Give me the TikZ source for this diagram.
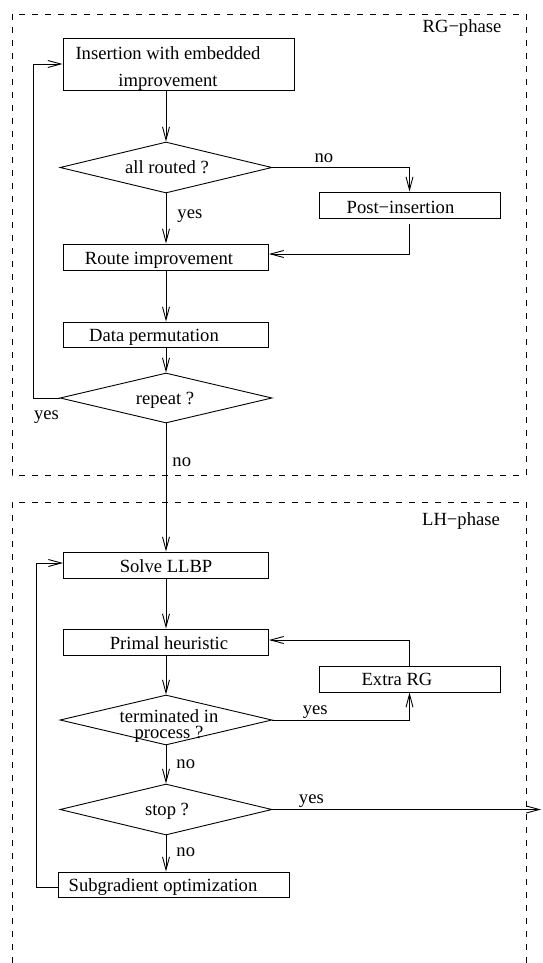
\documentclass[tikz,border=0pt]{standalone}
\usepackage{fontspec}
\setmainfont{Liberation Serif}
\usetikzlibrary{shapes.geometric,arrows.meta}
\begin{document}
\begin{tikzpicture}[x=1pt,y=-1pt,
  every node/.style={font=\fontsize{18.6}{22}\selectfont},
  box/.style={draw, line width=0.9pt, rectangle, inner sep=0pt},
  decision/.style={draw, line width=0.9pt, diamond, inner sep=0pt, minimum width=212pt},
  lbl/.style={inner sep=0pt},
  intext/.style={inner sep=0pt, text height=12.5pt, text depth=4pt, yshift=-3pt},
  flow/.style={line width=0.9pt, -{Straight Barb[length=13pt,width=7pt]}},
  phase/.style={dash pattern=on 6pt off 7pt, line width=0.8pt},
]
\useasboundingbox (0,0) rectangle (543,963);

% phase frames
\draw[phase] (12,14) rectangle (526,475);
\draw[phase] (12,963) -- (12,502) -- (526,502) -- (526,963);
\node[lbl] (rgtag) at (462,28) {RG−phase};
\node[lbl] (lhtag) at (461,521) {LH−phase};

% RG-phase
\node[box, minimum width=231pt, minimum height=52pt,
  label={[lbl, align=center, font=\fontsize{18.6}{27}\selectfont, xshift=-10.5pt, yshift=-4.5pt]center:Insertion with embedded\\improvement}]
  (ins) at (178.5,64) {};
\node[decision, minimum height=51pt, label={[intext, xshift=1pt, yshift=1pt]center:all routed ?}] (allr) at (166,167.5) {};
\node[box, minimum width=181pt, minimum height=26pt, label={[intext, xshift=-9pt, yshift=-1pt]center:Post−insertion}] (post) at (409.5,205) {};
\node[box, minimum width=205pt, minimum height=26pt, label={[intext, xshift=-7pt]center:Route improvement}] (route) at (166,257) {};
\node[box, minimum width=205pt, minimum height=25pt, label={[intext, xshift=-12pt]center:Data permutation}] (data) at (166,334.5) {};
\node[decision, minimum height=50pt, label={[intext, xshift=-1pt, yshift=1pt]center:repeat ?}] (rep) at (166,398) {};

% LH-phase
\node[box, minimum width=205pt, minimum height=26pt, label={[intext]center:Solve LLBP}] (solve) at (166,565) {};
\node[box, minimum width=205pt, minimum height=26pt, label={[intext, xshift=3pt]center:Primal heuristic}] (prim) at (166,642) {};
\node[box, minimum width=181pt, minimum height=26pt, label={[intext, xshift=-12.5pt, yshift=0.5pt]center:Extra RG}] (extra) at (409.5,679) {};
\node[decision, minimum height=50pt,
  label={[lbl, align=center, font=\fontsize{18.6}{16.5}\selectfont, xshift=3pt, yshift=-6pt]center:terminated in\\process ?}]
  (term) at (166,720) {};
\node[decision, minimum height=51pt, label={[intext, xshift=1pt, yshift=1pt]center:stop ?}] (stop) at (166,809.5) {};
\node[box, minimum width=231pt, minimum height=25pt, label={[intext, xshift=-10.5pt]center:Subgradient optimization}] (sub) at (173.5,884.5) {};

\coordinate (col) at (166,0);
\coordinate (exit) at (541,809.5);

% connectors
\draw[flow] (ins.south -| col) -- (allr.north);
\draw[flow] (allr.south) -- node[lbl, pos=0.45, right=11pt] {yes} (route.north);
\draw[flow] (allr.east) -| node[lbl, pos=0.188, above=4pt] {no} (post.north);
\draw[flow, shorten <=6pt] (post.south) |- ([yshift=3pt]route.east);
\draw[flow] (route.south) -- (data.north);
\draw[flow] (data.south) -- (rep.north);
\draw[flow] (rep.west) -- node[lbl, pos=0.5, below=12pt] {yes} ++(-26,0) |- (ins.west);
\draw[flow] (rep.south) -- node[lbl, pos=0.3, right=6pt] {no} (solve.north);
\draw[flow] (solve.south) -- (prim.north);
\draw[flow] (prim.south) -- (term.north);
\draw[flow] (term.east) -| node[lbl, pos=0.156, above=1pt] {yes} (extra.south);
\draw[flow] (extra.north) |- ([yshift=2pt]prim.east);
\draw[flow] (term.south) -- node[lbl, pos=0.48, right=10pt] {no} (stop.north);
\draw[flow] (stop.east) -- node[lbl, pos=0.145, above=1.5pt] {yes} (exit);
\draw[flow] (stop.south) -- node[lbl, pos=0.46, right=10pt] {no} (sub.north -| col);
\draw[flow] ([yshift=-2.5pt]sub.west) -- ++(-21,0) |- ([yshift=2pt]solve.west);
\end{tikzpicture}
\end{document}
